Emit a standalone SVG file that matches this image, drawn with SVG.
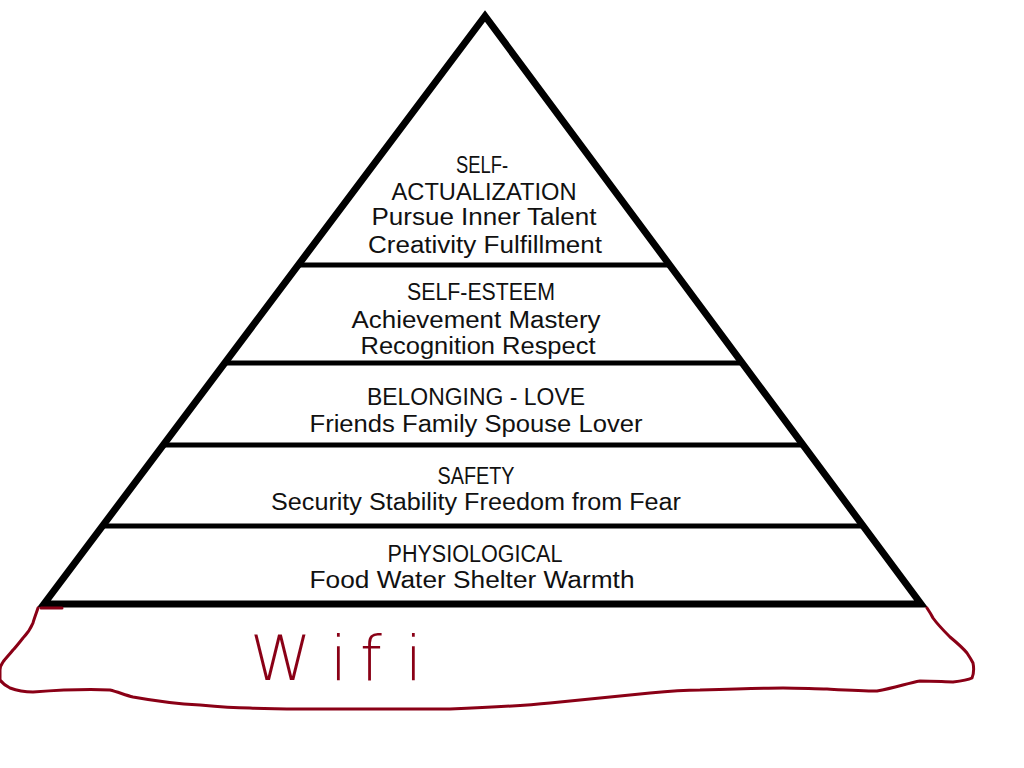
<svg xmlns="http://www.w3.org/2000/svg" width="1024" height="768" viewBox="0 0 1024 768">
<style>
.t{font-family:"Liberation Sans",Arial,sans-serif;font-size:23px;fill:#111;text-anchor:middle}
.sep{stroke:#000;stroke-width:5;stroke-linecap:butt}
.red{fill:none;stroke:#8a0016;stroke-width:3;stroke-linecap:round;stroke-linejoin:round}
</style>
<rect width="1024" height="768" fill="#fff"/>
<g id="pyramid">
<polygon points="485,16 44,604 921,604" fill="#fff" stroke="#000" stroke-width="7" stroke-linejoin="miter" stroke-miterlimit="10"/>
</g>
<g id="separators">
<line class="sep" x1="299" y1="265" x2="668" y2="265"/>
<line class="sep" x1="225" y1="363" x2="741" y2="363"/>
<line class="sep" x1="164" y1="445" x2="802" y2="445"/>
<line class="sep" x1="104" y1="526" x2="862" y2="526"/>
</g>
<g id="self-actualization">
<text class="t" x="482" y="173" textLength="52" lengthAdjust="spacingAndGlyphs">SELF-</text>
<text class="t" x="484" y="200" textLength="185" lengthAdjust="spacingAndGlyphs">ACTUALIZATION</text>
<text class="t" x="484" y="225" textLength="225" lengthAdjust="spacingAndGlyphs">Pursue Inner Talent</text>
<text class="t" x="485" y="253" textLength="234" lengthAdjust="spacingAndGlyphs">Creativity  Fulfillment</text>
</g>
<g id="self-esteem">
<text class="t" x="481" y="300" textLength="148" lengthAdjust="spacingAndGlyphs">SELF-ESTEEM</text>
<text class="t" x="476" y="328" textLength="249" lengthAdjust="spacingAndGlyphs">Achievement Mastery</text>
<text class="t" x="478" y="354" textLength="235" lengthAdjust="spacingAndGlyphs">Recognition  Respect</text>
</g>
<g id="belonging-love">
<text class="t" x="476" y="405" textLength="218" lengthAdjust="spacingAndGlyphs">BELONGING - LOVE</text>
<text class="t" x="476" y="432" textLength="333" lengthAdjust="spacingAndGlyphs">Friends  Family  Spouse  Lover</text>
</g>
<g id="safety">
<text class="t" x="476" y="484" textLength="77" lengthAdjust="spacingAndGlyphs">SAFETY</text>
<text class="t" x="476" y="510" textLength="410" lengthAdjust="spacingAndGlyphs">Security  Stability  Freedom from Fear</text>
</g>
<g id="physiological">
<text class="t" x="475" y="562" textLength="175" lengthAdjust="spacingAndGlyphs">PHYSIOLOGICAL</text>
<text class="t" x="472" y="588" textLength="325" lengthAdjust="spacingAndGlyphs">Food  Water  Shelter  Warmth</text>
</g>
<g id="wifi">
<path class="red" d="M41,608 L62,608"/>
<path class="red" d="M38,608 C36,614 34,619 33,623 C30,630 27,634 23,638 C19,643 16,647 13,650 C9,655 5,659 3,662 C1,665 0,668 0,670 L0,680 C3,684 6,686 10,688 C18,691 25,692 33,692 C60,690 90,689 110,690 C118,692 125,695 133,697 C155,701 180,704 200,705 C220,707 235,708 250,708 C270,709 285,709 300,709 C350,709 400,709 450,709 C500,707 530,705 550,703 C600,698 630,695 650,693 C670,691 685,690 700,690 C730,689 760,688 783,688 C800,688 815,689 827,689 C845,690 862,691 877,691 C895,688 908,683 920,681 C935,681 945,682 953,682 C962,681 968,680 972,678 C974,673 974,668 973,663 C971,659 969,656 967,653 C962,647 956,642 950,637 C944,631 938,625 933,618 C931,614 929,611 927,608"/>
<text x="253" y="680" font-family="'DejaVu Sans',Arial,sans-serif" font-weight="200" font-size="62" fill="#8a0016"><tspan x="250">W</tspan><tspan x="330">i</tspan><tspan x="360">f</tspan><tspan x="405">i</tspan></text>
</g>
</svg>
